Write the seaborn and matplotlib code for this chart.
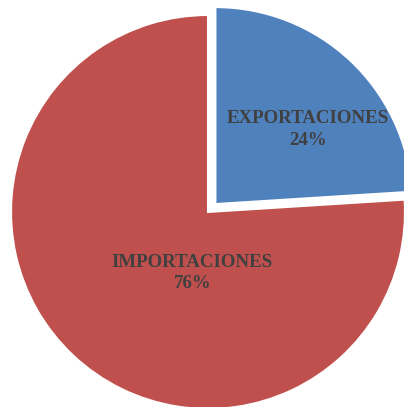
import matplotlib
matplotlib.use("Agg")
import matplotlib.pyplot as plt
import seaborn as sns

# ── Data ─────────────────────────────────────────────────────────────
categories = ["EXPORTACIONES", "IMPORTACIONES"]
shares = [24, 76]
colors = ["#4F81BD", "#C0504D"]
explode = [0.055, 0.0]
# label centres (axes data units, pie radius = 1)
label_pos = [(0.508, 0.42), (-0.08, -0.31)]

sns.set_style("white")
plt.rcParams["font.family"] = ["Liberation Serif", "DejaVu Serif"]

fig = plt.figure(figsize=(4.04, 4.07), dpi=100)
ax = fig.add_axes([0, 0, 1, 1])

wedges, _ = ax.pie(
    shares, colors=colors, explode=explode, startangle=90,
    counterclock=False, radius=1.0,
    wedgeprops={"edgecolor": "white", "linewidth": 1.5},
)

for name, val, (x, y) in zip(categories, shares, label_pos):
    ax.text(x, y, f"{name}\n{val}%", ha="center", va="center",
            fontsize=13.6, fontweight="bold", color="#404040",
            linespacing=1.35)

ax.set_xlim(-1.056, 0.995)
ax.set_ylim(-0.990, 1.076)
ax.set_aspect("equal")
ax.axis("off")

fig.savefig("out.png", dpi=100)
plt.close(fig)
